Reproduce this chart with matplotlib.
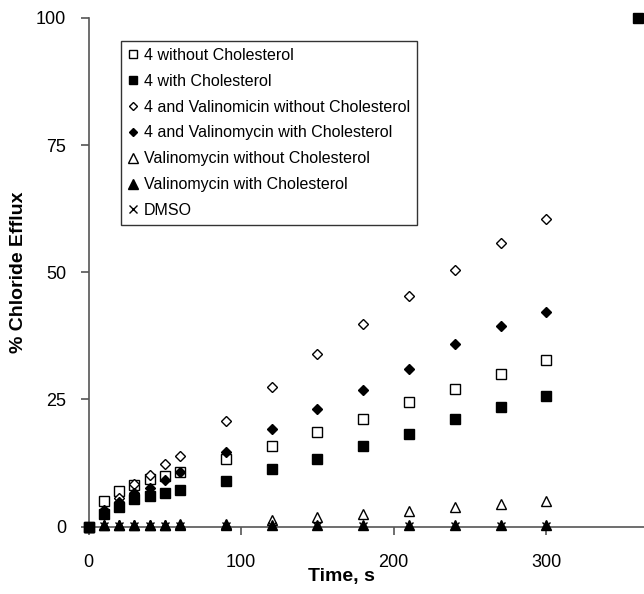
import matplotlib
matplotlib.use("Agg")
import matplotlib.pyplot as plt

plt.rcParams['font.family'] = ['Liberation Sans', 'DejaVu Sans']

time_s = [0, 10, 20, 30, 40, 50, 60, 90, 120, 150, 180, 210, 240, 270, 300]

four_no_chol = [0, 5.0, 7.0, 8.2, 9.3, 10.0, 10.8, 13.3, 15.9, 18.6, 21.2, 24.4, 27.0, 29.9, 32.8]
four_chol = [0, 2.4, 3.9, 5.4, 5.9, 6.6, 7.1, 8.9, 11.3, 13.3, 15.8, 18.1, 21.2, 23.5, 25.7]
four_val_no_chol = [0, 3.2, 5.6, 8.4, 10.2, 12.2, 13.8, 20.7, 27.4, 34.0, 39.9, 45.4, 50.5, 55.8, 60.4]
four_val_chol = [0, 3.0, 4.8, 6.6, 7.6, 9.1, 10.7, 14.6, 19.2, 23.2, 26.9, 31.0, 35.8, 39.4, 42.2]
val_no_chol = [0, 0.3, 0.3, 0.3, 0.3, 0.3, 0.4, 0.5, 1.3, 1.9, 2.5, 3.1, 3.8, 4.5, 5.0]
val_chol = [0, 0.2, 0.2, 0.2, 0.2, 0.2, 0.3, 0.2, 0.2, 0.2, 0.2, 0.2, 0.3, 0.3, 0.3]
dmso = [0, 0.1, 0.1, 0.1, 0.1, 0.1, 0.1, 0.1, 0.1, 0.1, 0.1, 0.1, 0.1, 0.1, 0.1]

final_time = [360]
final_four_chol = [100]

labels = ["4 without Cholesterol", "4 with Cholesterol",
          "4 and Valinomicin without Cholesterol", "4 and Valinomycin with Cholesterol",
          "Valinomycin without Cholesterol", "Valinomycin with Cholesterol", "DMSO"]

x_ticks = [0, 100, 200, 300]
y_ticks = [0, 25, 50, 75, 100]

fig = plt.figure(figsize=(6.44, 5.94), dpi=100)
ax = fig.add_axes([88.5 / 644, 1 - 526.5 / 594, 1 - 88.5 / 644, (526.5 - 18) / 594])

axis_col = '#555555'
styles = [
    dict(marker='s', mfc='white', mec='black', ms=6.5),
    dict(marker='s', mfc='black', mec='black', ms=6.5),
    dict(marker='D', mfc='white', mec='black', ms=5.0),
    dict(marker='D', mfc='black', mec='black', ms=5.0),
    dict(marker='^', mfc='white', mec='black', ms=7.5),
    dict(marker='^', mfc='black', mec='black', ms=7.5),
    dict(marker='x', mfc='black', mec='black', ms=6.0),
]
series = [four_no_chol, four_chol, four_val_no_chol, four_val_chol, val_no_chol, val_chol, dmso]

handles = []
for vals, st, lab in zip(series, styles, labels):
    h, = ax.plot(time_s, vals, linestyle='none', mew=1.0, label=lab, clip_on=False, zorder=3, **st)
    handles.append(h)

ax.plot(final_time, final_four_chol, linestyle='none', mew=1.0, clip_on=False, zorder=3, **styles[1])

ax.set_xlim(0, 364)
ax.set_ylim(0, 100)
ax.set_xticks(x_ticks)
ax.set_yticks(y_ticks)

for s in ['top', 'right']:
    ax.spines[s].set_visible(False)
for s in ['left', 'bottom']:
    ax.spines[s].set_color(axis_col)
    ax.spines[s].set_linewidth(1.2)

ax.tick_params(axis='both', direction='out', length=6, width=1.2, color=axis_col, labelsize=13)
ax.tick_params(axis='x', pad=14)
ax.tick_params(axis='y', pad=10)

ax.set_xlabel("Time, s", fontsize=14, fontweight='bold')
ax.set_ylabel("% Chloride Efflux", fontsize=14, fontweight='bold')
ax.xaxis.set_label_coords((341 - 88.5) / (644 - 88.5), -(577 - 526.5) / (526.5 - 18), transform=ax.transAxes)
ax.xaxis.label.set_va('center')
ax.yaxis.set_label_coords(-(88.5 - 19) / (644 - 88.5), 0.5)
ax.yaxis.label.set_va('center')

leg = ax.legend(handles=handles, loc='upper left',
                bbox_to_anchor=(120.7 / 644, 1 - 40.7 / 594), bbox_transform=fig.transFigure,
                borderaxespad=0, fontsize=11.5, frameon=True, fancybox=False,
                edgecolor='black', handlelength=0.7, handletextpad=0.3,
                labelspacing=0.68, borderpad=0.45, markerscale=0.9)
leg.get_frame().set_linewidth(1.0)

fig.savefig("out.png", dpi=100)
